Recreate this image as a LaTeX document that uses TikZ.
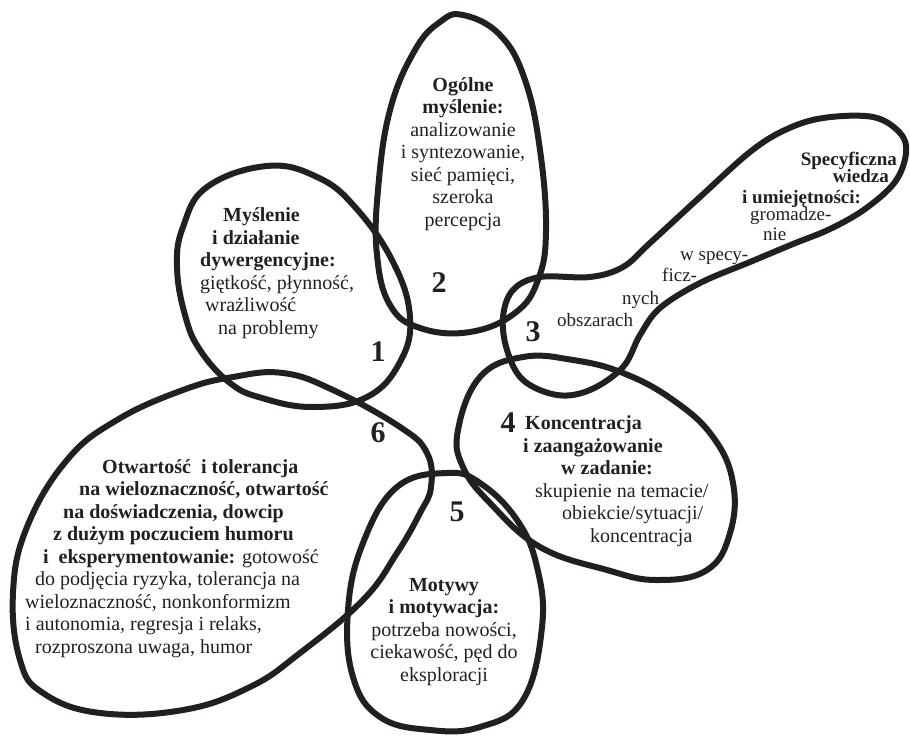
\documentclass[tikz,border=0pt]{standalone}
\usepackage{fontspec}
\setmainfont{Liberation Serif}
\usetikzlibrary{positioning}
\definecolor{ink}{RGB}{35,31,32}

\begin{document}
\begin{tikzpicture}[x=1pt, y=-1pt]
    \tikzset{
      blob/.style={draw=ink, line width=6pt, line join=round},
      txt/.style={font=\fontsize{20}{22.5}\selectfont, text=ink, inner sep=0pt, align=left, anchor=base west},
      mid/.style={txt, align=center, anchor=base},
      small/.style={txt, font=\fontsize{19}{20}\selectfont},
      num/.style={font=\fontsize{30}{30}\selectfont\bfseries, text=ink, inner sep=0pt},
    }
    \useasboundingbox (0,0) rectangle (910,736);

    % the six areas
    \draw[blob] plot[smooth cycle, tension=0.7] coordinates {(267,166) (317,177) (355,207) (393,262) (410,317) (400,362) (367,397) (313,407) (262,398) (230,383) (200,350) (185,315) (177,267) (183,227) (207,187)};
    \draw[blob] plot[smooth cycle, tension=0.7] coordinates {(463,15) (500,35) (525,80) (540,150) (546,230) (538,280) (515,313) (470,332) (420,328) (390,305) (377,255) (378,190) (390,110) (415,50) (440,22)};
    \draw[blob] plot[smooth cycle, tension=0.6] coordinates {(540,277) (590,277) (623,267) (650,243) (700,197) (750,152) (785,130) (823,118) (873,117) (900,133) (906,153) (895,182) (865,209) (830,229) (793,244) (750,262) (700,283) (660,308) (640,335) (623,367) (590,390) (557,395) (523,380) (507,350) (503,317) (513,290)};
    \draw[blob] plot[smooth cycle, tension=0.7] coordinates {(480,377) (523,357) (573,360) (623,373) (673,400) (713,437) (733,483) (730,533) (707,570) (657,580) (607,570) (540,547) (490,503) (463,467) (458,430)};
    \draw[blob] plot[smooth cycle, tension=0.7] coordinates {(447,473) (480,483) (517,520) (537,567) (542,627) (523,700) (480,727) (430,730) (380,717) (353,677) (348,610) (363,543) (397,487)};
    \draw[blob] plot[smooth cycle, tension=0.7] coordinates {(283,373) (333,390) (400,427) (427,453) (431,487) (420,513) (397,553) (363,600) (300,653) (250,687) (183,710) (100,713) (43,693) (20,660) (13,593) (27,527) (67,460) (117,420) (183,390) (233,377)};

    % texts (placed at the baseline of their last line)
    \node[txt] (t1) at (200,334) {\hspace*{23pt}\textbf{Myślenie}\\ \hspace*{12pt}\textbf{i działanie}\\ \textbf{dywergencyjne:}\\ giętkość, płynność,\\ \hspace*{5pt}wrażliwość\\ \hspace*{18pt}na problemy};
    \node[mid] (t2) at (463,226) {\textbf{Ogólne}\\ \textbf{myślenie:}\\ analizowanie\\ i syntezowanie,\\ sieć pamięci,\\ szeroka\\ percepcja};
    \node[txt] (t4) at (523,542) {\hspace*{2pt}\textbf{Koncentracja}\\ \textbf{i zaangażowanie}\\ \hspace*{38pt}\textbf{w zadanie:}\\ \hspace*{12pt}skupienie na temacie/\\ \hspace*{39pt}obiekcie/sytuacji/\\ \hspace*{67pt}koncentracja};
    \node[mid] (t5) at (444,681) {\textbf{Motywy}\\ \textbf{i motywacja:}\\ potrzeba nowości,\\ ciekawość, pęd do\\ eksploracji};
    \node[txt] (t6) at (25,653) {\hspace*{77pt}\textbf{Otwartość\ \ i tolerancja}\\ \hspace*{54pt}\textbf{na wieloznaczność, otwartość}\\ \hspace*{38pt}\textbf{na doświadczenia, dowcip}\\ \hspace*{28pt}\textbf{z dużym poczuciem humoru}\\ \hspace*{18pt}\textbf{i\ \ eksperymentowanie:} gotowość\\ \hspace*{10pt}do podjęcia ryzyka, tolerancja na\\ wieloznaczność, nonkonformizm\\ i autonomia, regresja i relaks,\\ \hspace*{10pt}rozproszona uwaga, humor};

    % the stepped text of area 3
    \node[small, anchor=base east] (s1) at (897,165) {\textbf{Specyficzna}};
    \node[small, anchor=base east] (s2) at (889,182) {\textbf{wiedza}};
    \node[small] (s3) at (742,203) {\textbf{i umiejętności:}};
    \node[small] (s4) at (750,220) {gromadze-};
    \node[small] (s5) at (763,240) {nie};
    \node[small] (s6) at (680,260) {w specy-};
    \node[small] (s7) at (662,281) {ficz-};
    \node[small] (s8) at (622,304) {nych};
    \node[small] (s9) at (557,326) {obszarach};

    % numbers
    \node[num] (n1) at (378,352) {1};
    \node[num] (n2) at (439,283) {2};
    \node[num] (n3) at (533,332) {3};
    \node[num] (n4) at (508,423) {4};
    \node[num] (n5) at (457,512) {5};
    \node[num] (n6) at (378,433) {6};
\end{tikzpicture}
\end{document}
